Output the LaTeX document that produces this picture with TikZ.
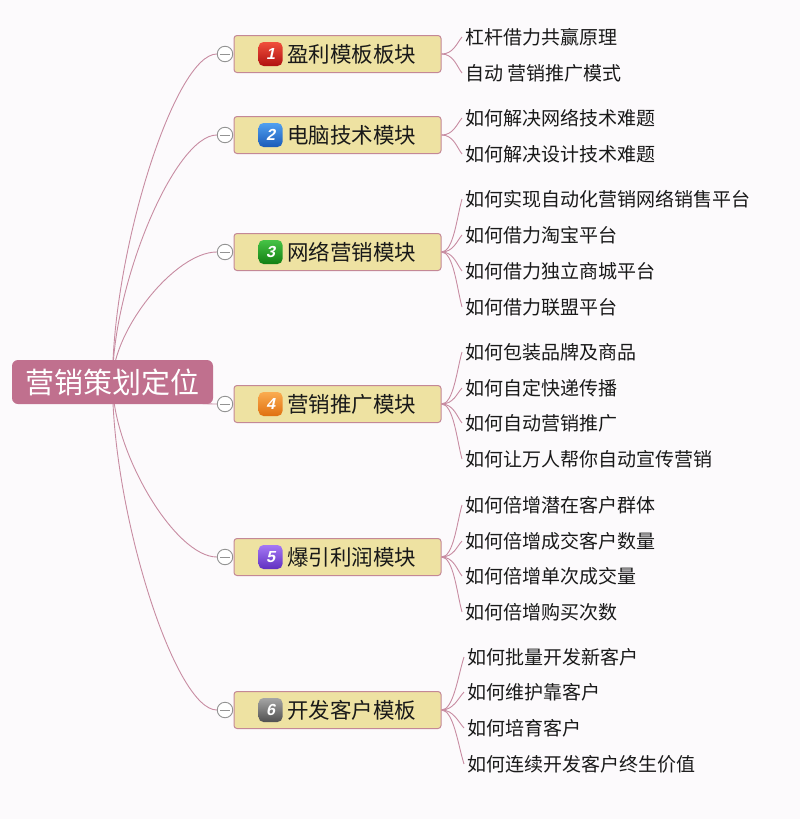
\documentclass[tikz,border=0pt]{standalone}
\usepackage{fontspec}
\setmainfont{Noto Sans CJK SC}
\newfontfamily\numfont[FakeSlant=0.22]{Liberation Sans}
\usetikzlibrary{calc}
\definecolor{bgc}{RGB}{252,250,252}
\definecolor{rootc}{RGB}{192,112,142}
\definecolor{boxc}{RGB}{238,226,162}
\definecolor{boxb}{RGB}{196,136,150}
\definecolor{linec}{RGB}{200,140,162}
\definecolor{txtc}{RGB}{25,25,25}
\definecolor{redt}{RGB}{240,80,60}\definecolor{redb}{RGB}{176,16,16}
\definecolor{blut}{RGB}{80,160,240}\definecolor{blub}{RGB}{26,90,184}
\definecolor{grnt}{RGB}{70,195,70}\definecolor{grnb}{RGB}{18,128,18}
\definecolor{orat}{RGB}{250,172,80}\definecolor{orab}{RGB}{224,112,16}
\definecolor{purt}{RGB}{165,120,245}\definecolor{purb}{RGB}{96,48,192}
\definecolor{gryt}{RGB}{165,165,165}\definecolor{gryb}{RGB}{80,80,80}
\pgfdeclarelayer{bglayer}
\pgfdeclarelayer{edges}
\pgfsetlayers{bglayer,edges,main}
\begin{document}
\begin{tikzpicture}[x=1pt,y=-1pt,
  conn/.style={draw=linec, line width=0.9pt},
  rootbox/.style={fill=rootc, rounded corners=6pt, minimum width=201pt, minimum height=44pt, text=white, font=\fontsize{29}{32}\selectfont, inner sep=0pt},
  branchbox/.style={fill=boxc, draw=boxb, line width=1pt, rounded corners=3pt, minimum width=207pt, minimum height=37pt, inner sep=0pt},
  iconbox/.style={rounded corners=5pt, minimum size=24pt, inner sep=0pt, text=white, font=\numfont\bfseries\fontsize{16}{16}\selectfont},
  btext/.style={anchor=west, inner sep=0pt, text=txtc, font=\fontsize{21.5}{24}\selectfont},
  ctext/.style={anchor=west, inner sep=0pt, text=txtc, font=\fontsize{19}{22}\selectfont},
  collapse/.style={circle, draw=gray!85, fill=white, line width=0.9pt, minimum size=15.5pt, inner sep=0pt,
    path picture={\draw[gray!85, line width=0.9pt] ([xshift=-5pt]path picture bounding box.center) -- ([xshift=5pt]path picture bounding box.center);}}
]
\useasboundingbox (0,0) rectangle (800,819);
\begin{pgfonlayer}{bglayer}
\fill[bgc] (0,0) rectangle (800,819);
\end{pgfonlayer}

\node[rootbox] (root) at (112.5,382) {营销策划定位};

\foreach \i/\y/\tc/\bc/\lab in {1/54/redt/redb/盈利模板板块, 2/135/blut/blub/电脑技术模块, 3/252/grnt/grnb/网络营销模块, 4/404/orat/orab/营销推广模块, 5/557/purt/purb/爆引利润模块, 6/710/gryt/gryb/开发客户模板}{
  \node[branchbox] (b\i) at (337.5,\y) {};
  \node[iconbox, top color=\tc, bottom color=\bc] (n\i) at (270.5,\y) {\i};
  \node[btext] (l\i) at (287,\y) {\lab};
  \node[collapse] (c\i) at (225,\y) {};
}

% children
\node[ctext] (t11) at (465,37) {杠杆借力共赢原理};
\node[ctext] (t12) at (465,73) {自动 营销推广模式};
\node[ctext] (t21) at (465,118) {如何解决网络技术难题};
\node[ctext] (t22) at (465,154) {如何解决设计技术难题};
\node[ctext] (t31) at (465,199) {如何实现自动化营销网络销售平台};
\node[ctext] (t32) at (465,235) {如何借力淘宝平台};
\node[ctext] (t33) at (465,271) {如何借力独立商城平台};
\node[ctext] (t34) at (465,307) {如何借力联盟平台};
\node[ctext] (t41) at (465,352) {如何包装品牌及商品};
\node[ctext] (t42) at (465,388) {如何自定快递传播};
\node[ctext] (t43) at (465,423) {如何自动营销推广};
\node[ctext] (t44) at (465,459) {如何让万人帮你自动宣传营销};
\node[ctext] (t51) at (465,505) {如何倍增潜在客户群体};
\node[ctext] (t52) at (465,541) {如何倍增成交客户数量};
\node[ctext] (t53) at (465,576) {如何倍增单次成交量};
\node[ctext] (t54) at (465,612) {如何倍增购买次数};
\node[ctext] (t61) at (467,657) {如何批量开发新客户};
\node[ctext] (t62) at (467,692) {如何维护靠客户};
\node[ctext] (t63) at (467,728) {如何培育客户};
\node[ctext] (t64) at (467,764) {如何连续开发客户终生价值};

\begin{pgfonlayer}{edges}
\foreach \i in {1,...,6}{
  \draw[conn] (root.center) .. controls ($(root.center)!0.4!(root.center |- c\i.west)$) and ($(c\i.west)!0.4!(root.center |- c\i.west)$) .. (c\i.west);
}
\foreach \b/\t in {1/11,1/12,2/21,2/22,3/31,3/32,3/33,3/34,4/41,4/42,4/43,4/44,5/51,5/52,5/53,5/54,6/61,6/62,6/63,6/64}{
  \draw[conn] (b\b.east) .. controls +(12,0) and ($(t\t.west)!0.35!(b\b.east)$) .. ([xshift=-3pt]t\t.west);
}
\end{pgfonlayer}
\end{tikzpicture}
\end{document}
